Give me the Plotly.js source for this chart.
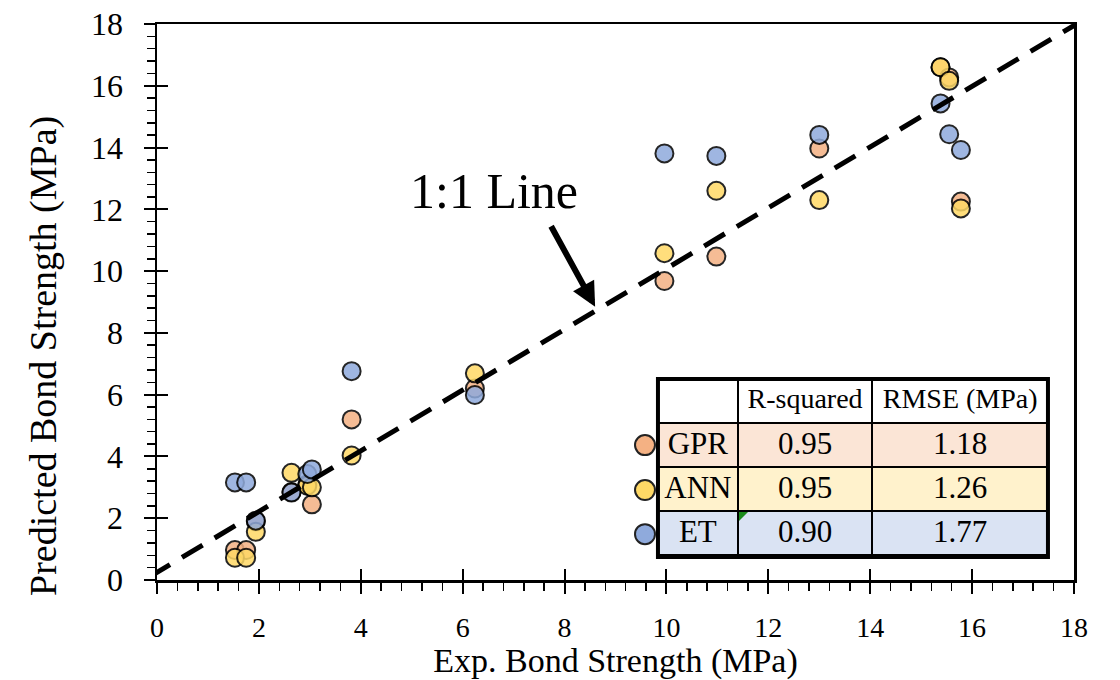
<!DOCTYPE html>
<html>
<head>
<meta charset="utf-8">
<script src="https://cdn.plot.ly/plotly-3.0.1.min.js"></script>
<style>html,body{margin:0;padding:0;background:#fff;}#chart{width:1120px;height:680px;}</style>
</head>
<body>
<div id="chart"></div>
<script>
// ---- data ----
const expX = [1.53, 1.75, 1.94, 2.64, 2.95, 3.04, 3.82, 6.24, 9.96, 10.98, 13.0, 15.38, 15.55, 15.78];
const gprY = [0.97, 0.97, 1.90, 2.85, 3.10, 2.45, 5.20, 6.20, 9.68, 10.47, 13.97, 16.60, 16.27, 12.25];
const annY = [0.72, 0.72, 1.56, 3.47, 3.05, 3.00, 4.03, 6.69, 10.58, 12.60, 12.30, 16.60, 16.16, 12.03];
const etY  = [3.16, 3.16, 1.92, 2.83, 3.43, 3.58, 6.76, 5.99, 13.81, 13.73, 14.41, 15.43, 14.43, 13.92];

const lineX = [-0.15, 18.1];
const lineY = [0.1, 18.05];

const models = ['GPR', 'ANN', 'ET'];
const rSquared = ['0.95', '0.95', '0.90'];
const rmse = ['1.18', '1.26', '1.77'];
const headers = ['', 'R-squared', 'RMSE\u00a0(MPa)'];

const tickVals = [0, 2, 4, 6, 8, 10, 12, 14, 16, 18];
const xTitle = 'Exp. Bond Strength (MPa)';
const yTitle = 'Predicted Bond Strength (MPa)';

// ---- styling ----
const colors = {GPR: '#F4B183', ANN: '#FFD966', ET: '#8FAADC'};
const rowFill = {GPR: '#FBE5D6', ANN: '#FFF2CC', ET: '#DAE3F3'};
const serif = 'Liberation Serif';

function pts(name, y) {
  return {
    type: 'scatter', mode: 'markers', name: name, x: expX, y: y,
    cliponaxis: false, showlegend: false,
    marker: {size: 18, color: colors[name], opacity: 0.85, line: {color: '#000', width: 2}}
  };
}

const traces = [
  {type: 'scatter', mode: 'lines', x: lineX, y: lineY, xaxis: 'x2', yaxis: 'y2',
   cliponaxis: false, showlegend: false, hoverinfo: 'skip',
   line: {color: '#000', width: 5, dash: '24px,14px'}},
  pts('GPR', gprY),
  pts('ANN', annY),
  pts('ET', etY),
  {
    type: 'table',
    domain: {x: [0.5463, 0.9716], y: [0.0414, 0.3615]},
    columnwidth: [80, 135, 176],
    header: {
      values: headers, height: 44, align: 'center',
      fill: {color: '#ffffff'},
      line: {color: '#000', width: 2},
      font: {family: serif, size: 28, color: '#000'}
    },
    cells: {
      values: [models, rSquared, rmse], height: 44, align: 'center',
      fill: {color: [models.map(m => rowFill[m]), models.map(m => rowFill[m]), models.map(m => rowFill[m])]},
      line: {color: '#000', width: 2},
      font: {family: serif, size: 31, color: '#000'}
    }
  }
];

const baseAxis = {
  range: [0, 18], tickvals: tickVals, showgrid: false, zeroline: false,
  linecolor: '#000', linewidth: 2.5, fixedrange: true
};

const tablePx = {x0: 0.5463, x1: 0.9716, y0: 0.0414, y1: 0.3615};
const legendY = [0.2426, 0.1617, 0.0825];

const shapes = [
  {type: 'rect', xref: 'paper', yref: 'paper', x0: tablePx.x0, x1: tablePx.x1, y0: tablePx.y0, y1: tablePx.y1,
   line: {color: '#000', width: 4}}
];
models.forEach((m, i) => {
  const cx = (645 - 157) / 917, cy = legendY[i];
  const rx = 10 / 917, ry = 10 / 556;
  shapes.push({type: 'circle', xref: 'paper', yref: 'paper', x0: cx - rx, x1: cx + rx, y0: cy - ry, y1: cy + ry,
    fillcolor: colors[m], line: {color: '#222', width: 2}});
});
// small green corner marker in the ET / R-squared cell
shapes.push({type: 'path', xref: 'paper', yref: 'paper',
  path: 'M ' + ((739 - 157) / 917) + ' ' + ((580 - 512) / 556) + ' L ' + ((748 - 157) / 917) + ' ' + ((580 - 512) / 556) +
        ' L ' + ((739 - 157) / 917) + ' ' + ((580 - 521) / 556) + ' Z',
  fillcolor: '#1a8a1a', line: {width: 0}});

const layout = {
  width: 1120, height: 680,
  margin: {l: 157, r: 46, t: 24, b: 100},
  paper_bgcolor: '#fff', plot_bgcolor: '#fff',
  showlegend: false,
  font: {family: serif, color: '#000'},
  xaxis: Object.assign({}, baseAxis, {
    mirror: true, ticks: 'outside', ticklen: 11, tickwidth: 2, tickcolor: '#000',
    minor: {dtick: 0.4, ticks: 'outside', ticklen: 8, tickwidth: 1.5, tickcolor: '#000'},
    tickfont: {family: serif, size: 28, color: '#000'}, ticklabelstandoff: 10,
    title: {text: xTitle, font: {family: serif, size: 34, color: '#000'}, standoff: 8}
  }),
  yaxis: Object.assign({}, baseAxis, {
    mirror: true, ticks: 'outside', ticklen: 11, tickwidth: 2, tickcolor: '#000',
    minor: {dtick: 0.4, ticks: 'outside', ticklen: 8, tickwidth: 1.5, tickcolor: '#000'},
    tickfont: {family: serif, size: 32, color: '#000'}, ticklabelstandoff: 14
  }),
  xaxis2: Object.assign({}, baseAxis, {
    overlaying: 'x', anchor: 'y2', side: 'bottom', showline: false,
    ticks: 'inside', ticklen: 11, tickwidth: 2, tickcolor: '#000', showticklabels: false
  }),
  yaxis2: Object.assign({}, baseAxis, {
    overlaying: 'y', anchor: 'x2', side: 'left', showline: false,
    ticks: 'inside', ticklen: 11, tickwidth: 2, tickcolor: '#000', showticklabels: false
  }),
  shapes: shapes,
  annotations: [
    {x: (43 - 157) / 917, y: (580 - 356) / 556, xref: 'paper', yref: 'paper', text: yTitle, textangle: -90,
     showarrow: false, xanchor: 'center', yanchor: 'middle', font: {family: serif, size: 38, color: '#000'}},
    {x: 6.62, y: 12.6, xref: 'x', yref: 'y', text: '1:1 Line', showarrow: false,
     font: {family: serif, size: 50, color: '#000'}},
    {x: 8.6, y: 8.85, xref: 'x', yref: 'y', ax: 7.72, ay: 11.5, axref: 'x', ayref: 'y',
     text: '', showarrow: true, arrowhead: 2, arrowsize: 0.8, arrowwidth: 6, arrowcolor: '#000'}
  ]
};

Plotly.newPlot('chart', traces, layout, {displayModeBar: false, staticPlot: true});
</script>
</body>
</html>
